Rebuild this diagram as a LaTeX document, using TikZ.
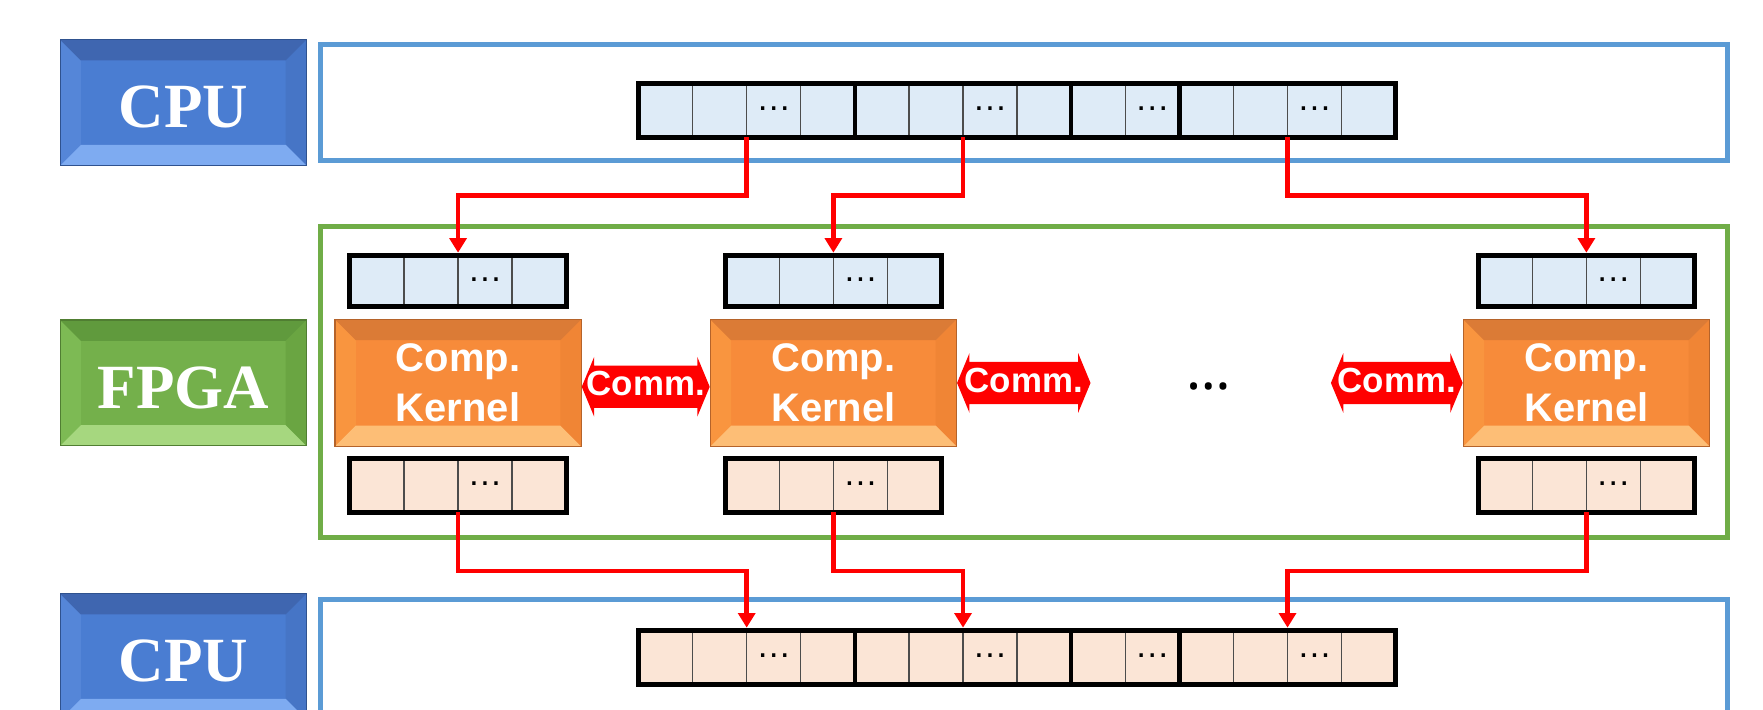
\documentclass[tikz,border=0pt]{standalone}
\usepackage{fontspec}
\setmainfont{Liberation Serif}
\newfontfamily\sansfam{Liberation Sans}
\newfontfamily\roundfam{Noto Sans}
\usetikzlibrary{arrows.meta,calc}

% palette
\definecolor{cpumain}{HTML}{4A7DD2}
\definecolor{cputop}{HTML}{3F66B0}
\definecolor{cpubot}{HTML}{7EABF1}
\definecolor{cpuleft}{HTML}{5586D8}
\definecolor{cpuright}{HTML}{4675C6}
\definecolor{cpuedge}{HTML}{2F528F}
\definecolor{fpgamain}{HTML}{74B04B}
\definecolor{fpgatop}{HTML}{609A3D}
\definecolor{fpgabot}{HTML}{A6D77F}
\definecolor{fpgaleft}{HTML}{7DBA54}
\definecolor{fpgaright}{HTML}{6AA542}
\definecolor{fpgaedge}{HTML}{507E32}
\definecolor{kmain}{HTML}{F78B3A}
\definecolor{ktop}{HTML}{DB7B36}
\definecolor{kbot}{HTML}{FDBE76}
\definecolor{kleft}{HTML}{F9953F}
\definecolor{kright}{HTML}{F08535}
\definecolor{kedge}{HTML}{B5632A}
\definecolor{framebl}{HTML}{5B9BD5}
\definecolor{framegr}{HTML}{70AD47}
\definecolor{cellblue}{HTML}{DEEBF7}
\definecolor{cellorange}{HTML}{FBE5D6}
\definecolor{linkred}{HTML}{FF0000}

\newlength\bevw
\setlength\bevw{18.5pt}

\tikzset{
  % raised box: face colour, then top, bottom, left and right bevel colours
  bevel/.style n args={5}{fill=#1, path picture={
      \path (path picture bounding box.north west) coordinate (bvNW)
            (path picture bounding box.north east) coordinate (bvNE)
            (path picture bounding box.south west) coordinate (bvSW)
            (path picture bounding box.south east) coordinate (bvSE);
      \fill[#4] (bvNW) -- (bvSW) -- ([xshift=\bevw,yshift=\bevw]bvSW) -- ([xshift=\bevw,yshift=-\bevw]bvNW) -- cycle;
      \fill[#5] (bvNE) -- (bvSE) -- ([xshift=-\bevw,yshift=\bevw]bvSE) -- ([xshift=-\bevw,yshift=-\bevw]bvNE) -- cycle;
      \fill[#2] (bvNW) -- (bvNE) -- ([xshift=-\bevw,yshift=-\bevw]bvNE) -- ([xshift=\bevw,yshift=-\bevw]bvNW) -- cycle;
      \fill[#3] (bvSW) -- (bvSE) -- ([xshift=-\bevw,yshift=\bevw]bvSE) -- ([xshift=\bevw,yshift=\bevw]bvSW) -- cycle;
    }},
  labelbox/.style={minimum width=219pt, minimum height=112pt, inner sep=0pt, line width=1pt,
    text=white, font=\bfseries\fontsize{56}{60}\selectfont, text height=45pt, text depth=0pt},
  kernel/.style={bevel={kmain}{ktop}{kbot}{kleft}{kright}, draw=kedge, line width=1pt,
    minimum width=219pt, minimum height=113pt, inner sep=0pt, align=center, text=white,
    font=\sansfam\bfseries\fontsize{35.5}{44}\selectfont},
  memframe/.style={draw=black, line width=4.5pt, inner sep=0pt, outer sep=0pt},
  cellline/.style={draw=black!70, line width=1.2pt},
  celldots/.style={anchor=base, inner sep=0pt, font=\sansfam\fontsize{31}{31}\selectfont},
  bigdots/.style={anchor=base, inner sep=0pt, font=\roundfam\bfseries\fontsize{50}{50}\selectfont},
  groupdiv/.style={draw=black, line width=4pt},
  conn/.style={draw=linkred, line width=4pt, -{Triangle[length=13pt,width=15pt]}},
  commtext/.style={text=white, inner sep=0pt, font=\sansfam\bfseries\fontsize{31}{31}\selectfont},
  hostframe/.style={draw=framebl, line width=4.5pt},
  devframe/.style={draw=framegr, line width=4.5pt},
}

% a row of buffer cells: name, left, top, height, cells, fill, cells holding dots
\newcommand\memrow[7]{%
  \foreach \ci in {1,...,#5}{%
    \draw[cellline, fill=#6] ({#2+(\ci-1)*48.1},#3) rectangle ({#2+\ci*48.1},{#3+#4});}
  \foreach \ci in {#7}{%
    \node[celldots] at ({#2+(\ci-0.5)*48.1},{#3+#4/2}) {…};}
  \node[memframe, minimum width={#5*48.1pt}, minimum height={#4*1pt}, anchor=north west] (#1) at (#2,#3) {};
}

% double-headed link between two points: left end, right end, label name
\newcommand\commlink[3]{%
  \fill[linkred] (#1) -- ++(11,-26.5) -- ++(0,7.75) -- ($(#2)+(-11,-18.75)$) -- ++(0,-7.75)
     -- (#2) -- ++(-11,26.5) -- ++(0,-7.75) -- ($(#1)+(11,18.75)$) -- ++(0,7.75) -- cycle;
  \path ($(#1)!0.5!(#2)$) ++(0,-2.5) node[commtext] (#3) {Comm.};
}

\begin{document}
\begin{tikzpicture}[x=1pt,y=-1pt]
\useasboundingbox (0,0) rectangle (1568,631);
\clip (0,0) rectangle (1568,631);
\fill[white] (0,0) rectangle (1568,631);

% host and device regions
\draw[hostframe] (284.75,39.85) rectangle (1536.35,143);
\draw[devframe] (284.75,201.85) rectangle (1536.35,478.25);
\draw[hostframe] (284.75,533.25) rectangle (1536.35,700);

% side labels
\node[labelbox, draw=cpuedge, bevel={cpumain}{cputop}{cpubot}{cpuleft}{cpuright}] (cpuT) at (163,91.3) {CPU};
\node[labelbox, draw=fpgaedge, bevel={fpgamain}{fpgatop}{fpgabot}{fpgaleft}{fpgaright}] (fpga) at (163,340.6) {FPGA};
\node[labelbox, draw=cpuedge, bevel={cpumain}{cputop}{cpubot}{cpuleft}{cpuright}] (cpuB) at (163,584) {CPU};

% host buffers
\memrow{hostIn}{567.9}{74}{48}{14}{cellblue}{3,7,10,13}
\foreach \g in {4,8,10}
  \draw[groupdiv] ($(hostIn.north west)+(\g*48.1,0)$) -- ($(hostIn.south west)+(\g*48.1,0)$);
\memrow{hostOut}{567.9}{560.5}{48}{14}{cellorange}{3,7,10,13}
\foreach \g in {4,8,10}
  \draw[groupdiv] ($(hostOut.north west)+(\g*48.1,0)$) -- ($(hostOut.south west)+(\g*48.1,0)$);

% compute kernels
\node[kernel] (k1) at (407.4,340.6) {Comp.\\Kernel};
\node[kernel] (k2) at (741.2,340.6) {Comp.\\Kernel};
\node[kernel] (k3) at (1410.9,340.6) {Comp.\\Kernel};

% kernel input / output buffers
\memrow{kin1}{311.2}{227}{46}{4}{cellblue}{3}
\memrow{kin2}{645.0}{227}{46}{4}{cellblue}{3}
\memrow{kin3}{1314.7}{227}{46}{4}{cellblue}{3}
\memrow{kout1}{311.2}{408}{47.5}{4}{cellorange}{3}
\memrow{kout2}{645.0}{408}{47.5}{4}{cellorange}{3}
\memrow{kout3}{1314.7}{408}{47.5}{4}{cellorange}{3}

% links between neighbouring kernels
\coordinate (l1a) at ([yshift=-3.4pt]k1.east);
\coordinate (l1b) at ([yshift=-3.4pt]k2.west);
\coordinate (l2a) at (k2.east);
\coordinate (l2b) at (969.9,340.6);
\coordinate (l3a) at (1183.7,340.6);
\coordinate (l3b) at (k3.west);
\commlink{l1a}{l1b}{comm1}
\commlink{l2a}{l2b}{comm2}
\commlink{l3a}{l3b}{comm3}
\node[bigdots] (gap) at (1075,346.5) {…};

% host to kernel transfers
\coordinate (lvlA) at (0,173.9);
\coordinate (lvlB) at (0,507.7);
\foreach \src/\dst in {2/kin1, 6/kin2, 12/kin3} {
  \coordinate (s) at ($(hostIn.south west)+(\src*48.1,0)$);
  \coordinate (e) at ($(\dst.north west)+(2*48.1,-2.25)$);
  \draw[conn] (s) -- (s |- lvlA) -| (e);
}
% kernel to host transfers
\foreach \src/\dst in {kout1/2, kout2/6, kout3/12} {
  \coordinate (s) at ($(\src.south west)+(2*48.1,0)$);
  \coordinate (e) at ($(hostOut.north west)+(\dst*48.1,-2.25)$);
  \draw[conn] (s) -- (s |- lvlB) -| (e);
}
\end{tikzpicture}
\end{document}
